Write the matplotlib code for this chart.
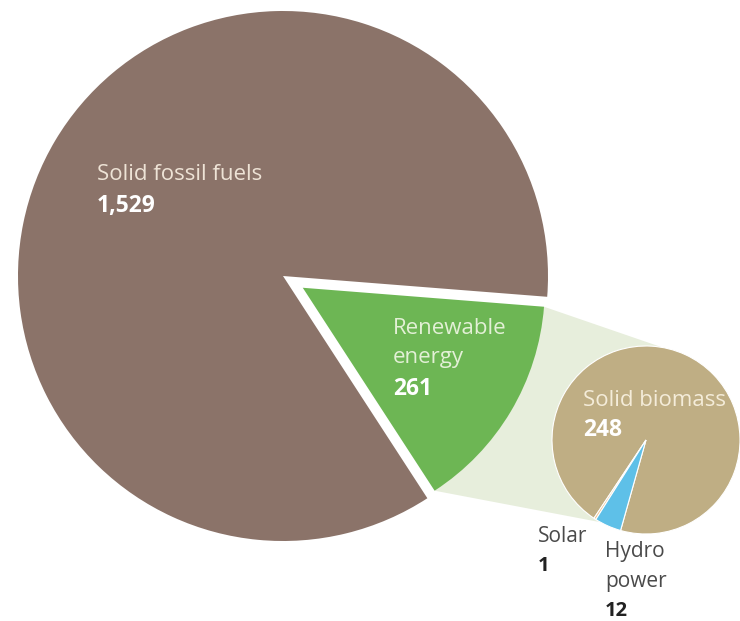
import matplotlib.pyplot as plt
from matplotlib.patches import Polygon
import numpy as np

# Energy supply, main split and breakdown of the renewable part
main_labels = ['Solid fossil fuels', 'Renewable energy']
main_values = [1529, 261]
sub_labels = ['Solid biomass', 'Solar', 'Hydro power']
sub_values = [248, 1, 12]

brown = '#8b7369'
green = '#6db654'
tan = '#bfae84'
solar_col = '#f0c08a'
blue = '#5ec0e8'
band = '#e7eedc'

plt.rcParams['font.family'] = ['Open Sans', 'DejaVu Sans']

fig = plt.figure(figsize=(7.4, 6.21), dpi=100)
ax = fig.add_axes([0, 0, 1, 1])

# big pie, y axis runs downwards so angles go clockwise on screen
big_c = (283, 276)
big_r = 265
w_main, _ = ax.pie(main_values, center=big_c, radius=big_r,
                   startangle=4.5, counterclock=False,
                   explode=[0, 23], colors=[brown, green],
                   wedgeprops=dict(linewidth=0))
w_main[1].set_radius(242)

# small pie with the renewable breakdown
small_c = (646, 440)
small_r = 94
w_sub, _ = ax.pie(sub_values, center=small_c, radius=small_r,
                  startangle=105.7, counterclock=False,
                  colors=[tan, solar_col, blue],
                  wedgeprops=dict(edgecolor='white', linewidth=0.8))
for w in w_sub:
    w.set_zorder(3)

# pale band joining the renewable wedge to the small pie
gw = w_main[1]
gc = np.array(gw.center)
gr = gw.r
def on_circle(c, r, deg):
    t = np.deg2rad(deg)
    return (c[0] + r * np.cos(t), c[1] + r * np.sin(t))
pts = [on_circle(gc, gr, gw.theta1), on_circle(gc, gr, gw.theta2),
       on_circle(small_c, small_r, 119), on_circle(small_c, small_r, -80)]
ax.add_patch(Polygon(pts, closed=True, facecolor=band, edgecolor='none', zorder=0))

ax.set_xlim(0, 740)
ax.set_ylim(621, 0)
ax.set_aspect('equal')
ax.axis('off')

fs_in = 16
fs_num = 16.5
fs_out = 15
# labels inside the wedges
ax.text(97, 174, main_labels[0], color='#eee3d6', fontsize=fs_in, va='center')
ax.text(97, 206, f'{main_values[0]:,}', color='white', fontsize=fs_num,
        fontweight='bold', va='center')
ax.text(393, 329, 'Renewable', color='#e3f0d6', fontsize=fs_in, va='center')
ax.text(393, 358, 'energy', color='#e3f0d6', fontsize=fs_in, va='center')
ax.text(393, 389, f'{main_values[1]:,}', color='white', fontsize=fs_num,
        fontweight='bold', va='center')
ax.text(583, 400, sub_labels[0], color='#f4ecd9', fontsize=fs_in, va='center')
ax.text(583, 430, f'{sub_values[0]}', color='white', fontsize=fs_num,
        fontweight='bold', va='center')

# labels for the thin slices, outside the pie
ax.text(538, 537, sub_labels[1], color='#4a4a4a', fontsize=fs_out, va='center')
ax.text(538, 566, f'{sub_values[1]}', color='#222222', fontsize=14.5,
        fontweight='bold', va='center')
ax.text(605, 551, 'Hydro', color='#4a4a4a', fontsize=fs_out, va='center')
ax.text(605, 582, 'power', color='#4a4a4a', fontsize=fs_out, va='center')
ax.text(605, 611, f'{sub_values[2]}', color='#222222', fontsize=14.5,
        fontweight='bold', va='center')

fig.savefig('out.png', dpi=100)
